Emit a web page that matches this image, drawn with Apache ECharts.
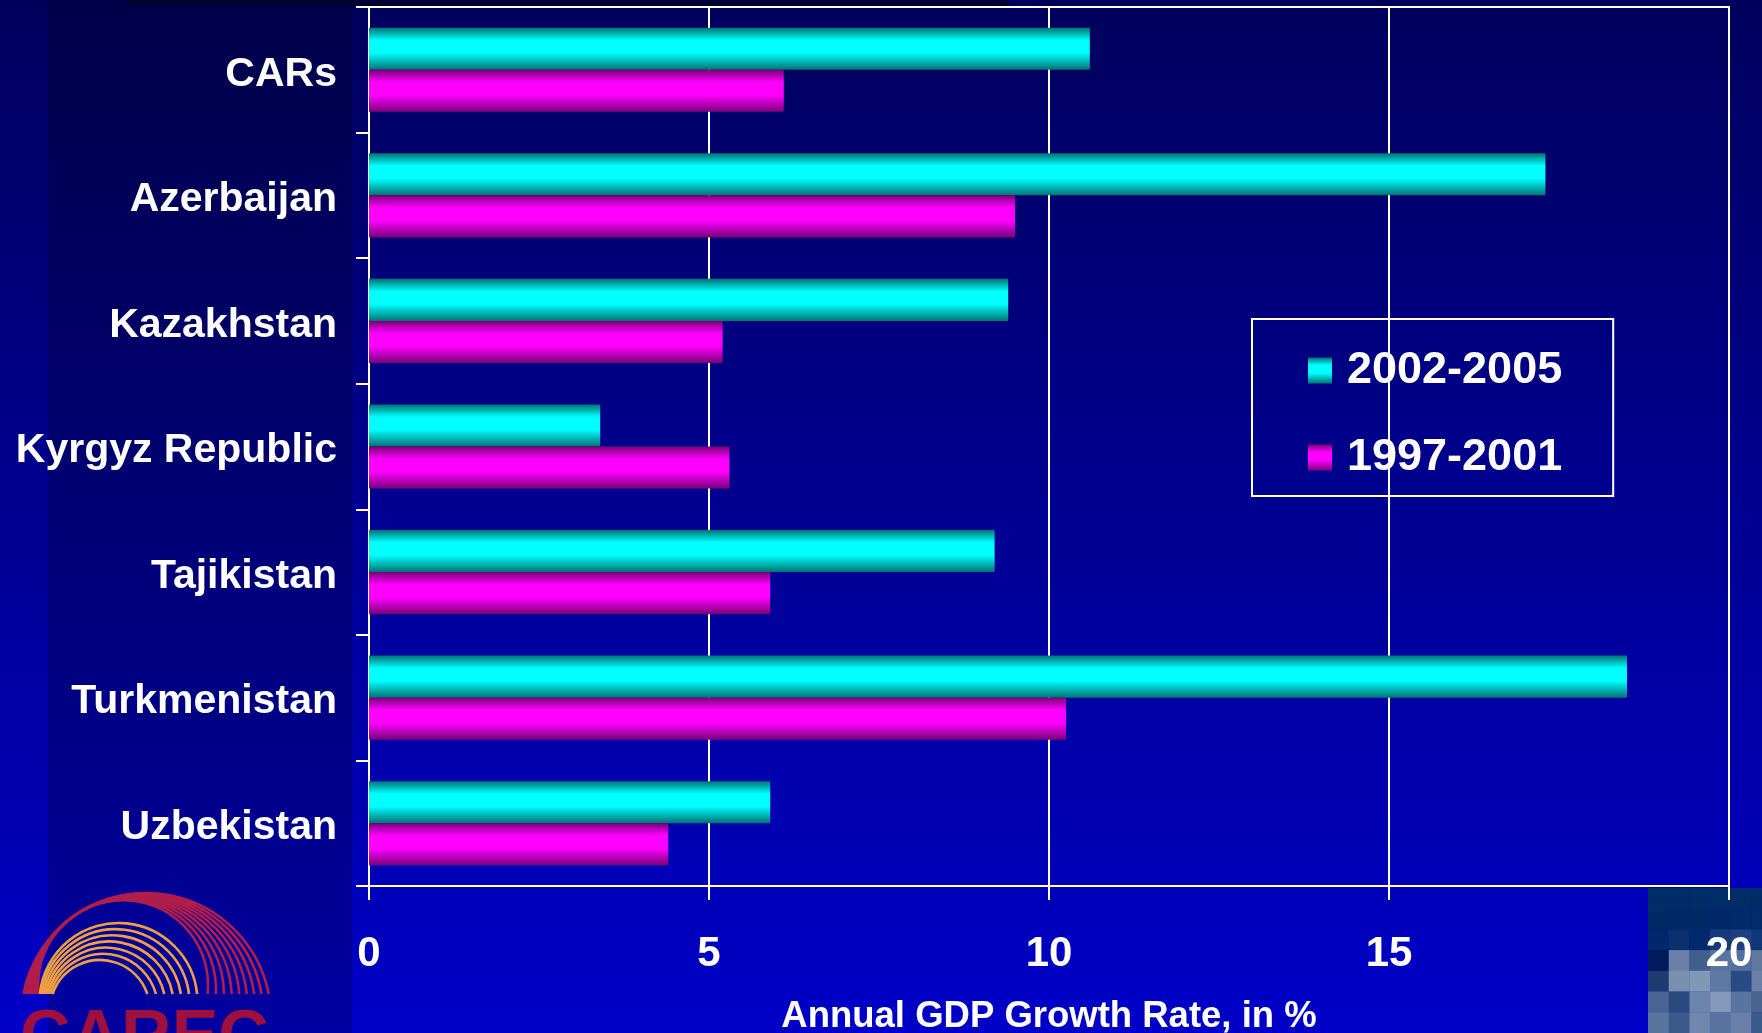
<!DOCTYPE html>
<html style="height: 100%">
<head>
    <meta charset="utf-8">
</head>
<body style="height: 100%; margin: 0; background: #000080;">
    <div id="container" style="width: 1762px; height: 1033px;"></div>
    <script type="text/javascript" src="https://cdn.jsdelivr.net/npm/echarts@6/dist/echarts.min.js"></script>
    <script type="text/javascript">
        // data
        var categories = ['CARs', 'Azerbaijan', 'Kazakhstan', 'Kyrgyz Republic', 'Tajikistan', 'Turkmenistan', 'Uzbekistan'];
        var seriesNames = ['2002-2005', '1997-2001'];
        var growth2002to2005 = [10.6, 17.3, 9.4, 3.4, 9.2, 18.5, 5.9];
        var growth1997to2001 = [6.1, 9.5, 5.2, 5.3, 5.9, 10.25, 4.4];
        var xTicks = [0, 5, 10, 15, 20];

        var FONT = 'Liberation Sans';
        var dom = document.getElementById('container');
        var myChart = echarts.init(dom);

        // shaded bar look: dark edges, bright middle
        function barFill(dark, bright) {
            return new echarts.graphic.LinearGradient(0, 0, 0, 1, [
                {offset: 0, color: dark},
                {offset: 0.3, color: bright},
                {offset: 0.6, color: bright},
                {offset: 1, color: dark}
            ]);
        }

        // slide decoration: background, side panel, logo, picture corner
        var deco = [];
        deco.push({
            type: 'rect', z: -20, silent: true,
            shape: {x: 0, y: 0, width: 1762, height: 1033},
            style: {fill: new echarts.graphic.LinearGradient(0, 0, 0, 1, [
                {offset: 0, color: '#00005c'},
                {offset: 1, color: '#0000c8'}
            ])}
        });
        deco.push({
            type: 'rect', z: -19, silent: true,
            shape: {x: 48, y: 0, width: 304, height: 1033},
            style: {fill: 'rgba(0,0,0,0.2)'}
        });
        deco.push({
            type: 'rect', z: -19, silent: true,
            shape: {x: 127, y: 0, width: 880, height: 7},
            style: {fill: '#000036'}
        });

        // corner picture, pixelated
        var pixelRows = [
            ['#002c68', '#002c68', '#002c68', '#002c68', '#002c68', '#002c68'],
            ['#002a66', '#002a66', '#002a66', '#00286a', '#002a6c', '#002c6a'],
            ['#00286a', '#0a3070', '#002a6c', '#163a78', '#1e4080', '#103876'],
            ['#001a5c', '#6a80a8', '#40608e', '#5a74a0', '#5470a0', '#60789c'],
            ['#1e3a70', '#7a90b0', '#8098b8', '#6078a4', '#2a4a84', '#6a80a8'],
            ['#4a6494', '#2a4a80', '#6a84ac', '#8498bc', '#5a74a0', '#4a6490'],
            ['#5a74a0', '#3a5a8c', '#7088b0', '#5a74a0', '#6a80a8', '#3a5a8c']
        ];
        pixelRows.forEach(function (row, r) {
            row.forEach(function (c, k) {
                deco.push({
                    type: 'rect', z: -18, silent: true,
                    shape: {x: 1648 + k * 20.7, y: 888 + r * 20.7, width: 21, height: 21},
                    style: {fill: c}
                });
            });
        });

        // CAREC logo arcs, cut off at y = 994
        function arcPiece(cx, cy, r, color) {
            var s = Math.max(-1, Math.min(1, (994 - cy) / r));
            return {
                type: 'arc', z: -17, silent: true,
                shape: {cx: cx, cy: cy, r: r, startAngle: Math.PI - Math.asin(s), endAngle: 2 * Math.PI + Math.asin(s), clockwise: true},
                style: {stroke: color, lineWidth: 2.6, fill: null}
            };
        }
        for (var i = 0; i < 9; i++) {
            var rr = 125 - 5 * i;
            deco.push(arcPiece(74.3 + 0.574 * rr, 915.6 + 0.819 * rr, rr, '#b01e4c'));
        }
        for (var j = 0; j < 7; j++) {
            var t = j / 6;
            deco.push(arcPiece(118.5 - 18.5 * t, 1002 + 8 * t, 79 - 29 * t, '#f0a040'));
        }
        deco.push({
            type: 'text', z: -17, silent: true,
            style: {text: 'CAREC', x: 20, y: 1005, fill: '#a0103e', font: 'bold 70px "Liberation Sans"', verticalAlign: 'top'}
        });

        var option = {
            animation: false,
            graphic: deco,
            grid: {
                left: 369,
                right: 33,
                top: 7,
                bottom: 147,
                outerBoundsMode: 'none',
                show: true,
                borderColor: '#ffffff',
                borderWidth: 2,
                backgroundColor: 'transparent'
            },
            legend: {
                data: seriesNames,
                orient: 'vertical',
                left: 1252,
                top: 319,
                padding: [29, 51, 16, 56],
                itemGap: 42,
                itemWidth: 24,
                itemHeight: 26,
                borderColor: '#ffffff',
                borderWidth: 2,
                icon: 'rect',
                textStyle: {
                    color: '#ffffff',
                    fontFamily: FONT,
                    fontWeight: 'bold',
                    fontSize: 45,
                    padding: [0, 0, 0, 10]
                }
            },
            xAxis: {
                type: 'value',
                min: xTicks[0],
                max: xTicks[xTicks.length - 1],
                interval: xTicks[1] - xTicks[0],
                name: 'Annual GDP Growth Rate, in %',
                nameLocation: 'middle',
                nameGap: 112,
                nameTextStyle: {color: '#ffffff', fontFamily: FONT, fontWeight: 'bold', fontSize: 36.5},
                axisLine: {show: true, lineStyle: {color: '#ffffff', width: 2}},
                axisTick: {show: true, length: 14, lineStyle: {color: '#ffffff', width: 2}},
                splitLine: {show: true, lineStyle: {color: '#ffffff', width: 2}},
                axisLabel: {color: '#ffffff', fontFamily: FONT, fontWeight: 'bold', fontSize: 42, margin: 47}
            },
            yAxis: {
                type: 'category',
                data: categories,
                inverse: true,
                axisLine: {show: true, lineStyle: {color: '#ffffff', width: 2}},
                axisTick: {show: true, length: 13, lineStyle: {color: '#ffffff', width: 2}},
                splitLine: {show: false},
                axisLabel: {
                    color: '#ffffff', fontFamily: FONT, fontWeight: 'bold', fontSize: 41, margin: 32,
                    verticalAlign: 'top', lineHeight: 9
                }
            },
            series: [
                {
                    name: seriesNames[0],
                    type: 'bar',
                    data: growth2002to2005,
                    barGap: '0%',
                    barCategoryGap: '33%',
                    itemStyle: {color: barFill('#007373', '#00ffff')}
                },
                {
                    name: seriesNames[1],
                    type: 'bar',
                    data: growth1997to2001,
                    barGap: '0%',
                    barCategoryGap: '33%',
                    itemStyle: {color: barFill('#7a0078', '#ff00ff')}
                }
            ]
        };
        myChart.setOption(option);
    </script>
</body>
</html>
